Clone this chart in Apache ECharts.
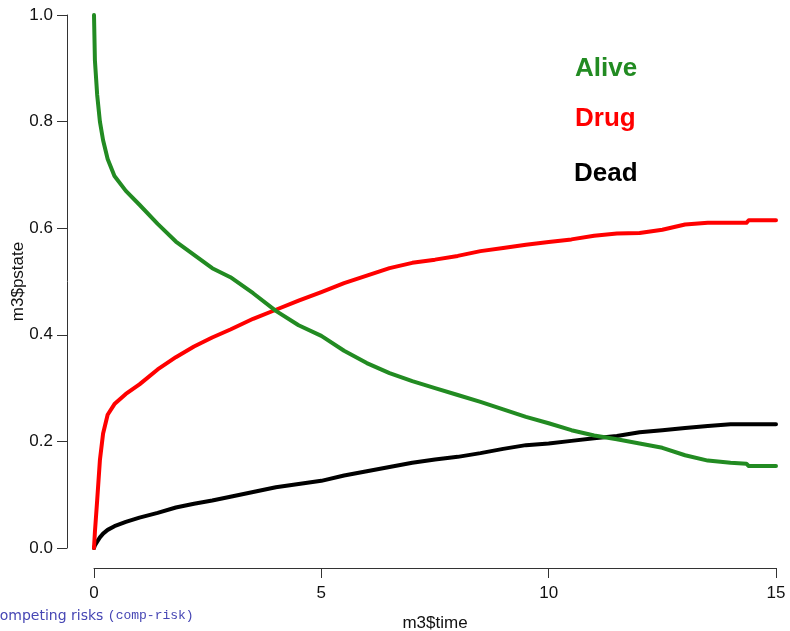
<!DOCTYPE html>
<html>
<head>
<meta charset="utf-8">
<script src="https://cdn.jsdelivr.net/npm/echarts@6/dist/echarts.min.js"></script>
<style>
  html, body { margin: 0; padding: 0; background: #fff; }
  #chart { width: 790px; height: 631px; }
</style>
</head>
<body>
<div id="chart"></div>
<script>
const times = [0, 0.02, 0.07, 0.13, 0.2, 0.3, 0.45, 0.7, 1.0, 1.4, 1.8, 2.2, 2.6, 3.0, 3.5, 4.0, 4.5, 5.0, 5.5, 6.0, 6.5, 7.0, 7.5, 8.0, 8.5, 9.0, 9.5, 10.0, 10.5, 11.0, 11.5, 12.0, 12.5, 13.0, 13.5, 14.0, 14.35, 14.4, 15.0];
const alive = [1.0, 0.915, 0.85, 0.80, 0.765, 0.73, 0.698, 0.67, 0.644, 0.608, 0.575, 0.55, 0.525, 0.508, 0.478, 0.445, 0.418, 0.398, 0.37, 0.347, 0.328, 0.313, 0.30, 0.287, 0.274, 0.26, 0.246, 0.234, 0.221, 0.211, 0.204, 0.196, 0.188, 0.174, 0.164, 0.160, 0.158, 0.154, 0.154];
const drug = [0.0, 0.03, 0.09, 0.165, 0.215, 0.25, 0.27, 0.289, 0.307, 0.335, 0.358, 0.378, 0.395, 0.41, 0.43, 0.447, 0.464, 0.48, 0.497, 0.511, 0.525, 0.535, 0.541, 0.548, 0.557, 0.563, 0.569, 0.574, 0.579, 0.586, 0.590, 0.591, 0.597, 0.607, 0.610, 0.610, 0.610, 0.615, 0.615];
const dead = [0.0, 0.005, 0.012, 0.02, 0.027, 0.034, 0.041, 0.049, 0.057, 0.066, 0.076, 0.083, 0.089, 0.096, 0.105, 0.114, 0.120, 0.126, 0.136, 0.144, 0.152, 0.160, 0.166, 0.171, 0.178, 0.186, 0.193, 0.196, 0.201, 0.206, 0.210, 0.217, 0.221, 0.225, 0.229, 0.232, 0.232, 0.232, 0.232];
const xTicks = [0, 5, 10, 15];
const yTicks = [0.0, 0.2, 0.4, 0.6, 0.8, 1.0];
const stateNames = ['Alive', 'Drug', 'Dead'];
const stateColors = ['#228B22', '#FF0000', '#000000'];
const footerMain = 'Competing risks ';
const footerCode = '(comp-risk)';

const chart = echarts.init(document.getElementById('chart'), null, { renderer: 'canvas' });
const pair = (ys) => times.map((t, i) => [t, ys[i]]);
const seriesData = [alive, drug, dead];

const axisCommon = {
  axisLine: { show: true, onZero: false, lineStyle: { color: '#333', width: 1 } },
  axisTick: { show: true, inside: false, length: 10, lineStyle: { color: '#333', width: 1 } },
  splitLine: { show: false },
  nameMoveOverlap: false,
  nameTextStyle: { color: '#111', fontSize: 17, fontFamily: 'Liberation Sans' }
};

chart.setOption({
  animation: false,
  backgroundColor: '#ffffff',
  grid: { left: 94, right: 14, top: 15, bottom: 83, containLabel: false, outerBoundsMode: 'none' },
  xAxis: Object.assign({}, axisCommon, {
    type: 'value', min: 0, max: 15, interval: 5, offset: 20,
    name: 'm3$time', nameLocation: 'middle', nameGap: 47,
    axisLabel: { color: '#111', fontSize: 17, fontFamily: 'Liberation Sans', margin: 17,
      formatter: (v) => xTicks.includes(v) ? String(v) : '' }
  }),
  yAxis: Object.assign({}, axisCommon, {
    type: 'value', min: 0, max: 1, interval: 0.2, offset: 27,
    name: 'm3$pstate', nameLocation: 'middle', nameGap: 40, nameRotate: 90,
    axisLabel: { color: '#111', fontSize: 17, fontFamily: 'Liberation Sans', margin: 14,
      formatter: (v) => {
        const m = yTicks.find(t => Math.abs(t - v) < 1e-9);
        return m === undefined ? '' : m.toFixed(1);
      } }
  }),
  series: stateNames.map((n, i) => ({
    name: n, type: 'line', data: pair(seriesData[i]),
    showSymbol: false, symbol: 'none', smooth: false,
    lineStyle: { color: stateColors[i], width: 4, cap: 'round', join: 'round' },
    itemStyle: { color: stateColors[i] },
    z: 3 - i
  })),
  graphic: [
    { type: 'text', left: 575, top: 56, style: { text: stateNames[0], fill: stateColors[0], font: 'bold 26px "Liberation Sans"' } },
    { type: 'text', left: 575, top: 106, style: { text: stateNames[1], fill: stateColors[1], font: 'bold 26px "Liberation Sans"' } },
    { type: 'text', left: 574, top: 161, style: { text: stateNames[2], fill: stateColors[2], font: 'bold 26px "Liberation Sans"' } },
    { type: 'text', left: -10, top: 609, style: {
      text: '{a|' + footerMain + '}{b|' + footerCode + '}',
      rich: {
        a: { fill: '#4646b4', fontSize: 14, fontFamily: 'DejaVu Sans' },
        b: { fill: '#4646b4', fontSize: 13, fontFamily: 'Liberation Mono' }
      } } }
  ]
});
</script>
</body>
</html>
